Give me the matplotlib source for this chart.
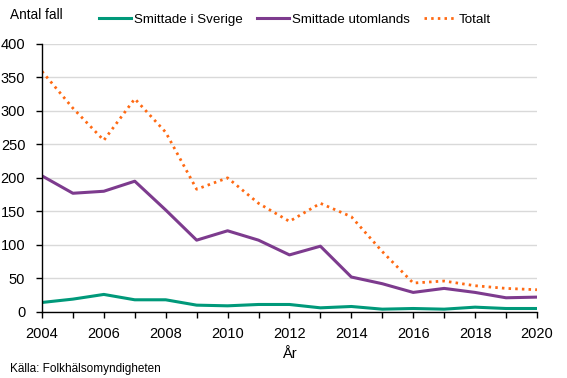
import matplotlib
matplotlib.use('Agg')
import matplotlib.pyplot as plt

# data
years = list(range(2004, 2021))
sverige = [14, 19, 26, 18, 18, 10, 9, 11, 11, 6, 8, 4, 5, 4, 7, 5, 5]
utomlands = [203, 177, 180, 195, 152, 107, 121, 107, 85, 98, 52, 42, 29, 35, 29, 21, 22]
totalt = [359, 304, 256, 318, 268, 183, 200, 162, 135, 162, 142, 90, 43, 46, 39, 35, 33]

plt.rcParams['font.family'] = ['Liberation Sans', 'DejaVu Sans']
fig = plt.figure(figsize=(5.67, 3.78), dpi=100)
ax = fig.add_axes([0.074, 0.175, 0.873, 0.709])

ax.plot(years, sverige, color='#00997a', lw=2.2, label='Smittade i Sverige')
ax.plot(years, utomlands, color='#7d3b8e', lw=2.2, label='Smittade utomlands')
ax.plot(years, totalt, color='#ff6a13', lw=2.0, ls=(0, (0.9, 1.5)), label='Totalt')

ax.set_xlim(2004, 2020)
ax.set_ylim(0, 400)
ax.set_xticks(range(2004, 2021, 2))
ax.set_xticks(years, minor=True)
ax.set_yticks(range(0, 401, 50))
ax.tick_params(axis='both', which='both', direction='out', length=4, width=1, labelsize=10.5)
ax.tick_params(axis='x', pad=7)
ax.tick_params(axis='y', pad=8)
ax.grid(axis='y', color='#d9d9d9', lw=1)
ax.set_axisbelow(True)
for s in ['top', 'right']:
    ax.spines[s].set_visible(False)
ax.spines['left'].set_linewidth(1)
ax.spines['bottom'].set_linewidth(1)

ax.set_xlabel('År', fontsize=10.5, labelpad=4)
fig.text(0.018, 0.96, 'Antal fall', fontsize=9.8, va='center')
fig.text(0.018, 0.025, 'Källa: Folkhälsomyndigheten', fontsize=8.5, va='center')

ax.legend(loc='center', bbox_to_anchor=(0.511, 1.089), ncol=3, frameon=False,
          fontsize=9.6, handlelength=2.4, handletextpad=0.2, columnspacing=1.1)

fig.savefig('out.png', dpi=100)
